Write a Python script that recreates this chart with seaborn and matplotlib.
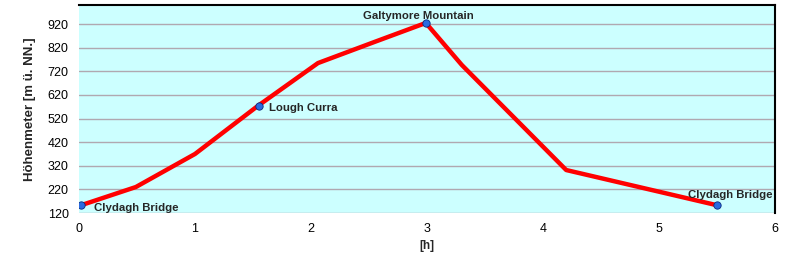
import matplotlib
matplotlib.use("Agg")
import matplotlib.pyplot as plt
import seaborn as sns
import pandas as pd

time_h = [0.0, 0.49, 1.0, 1.54, 2.06, 2.55, 2.99, 3.3, 4.2, 5.49]
elev_m = [150, 230, 370, 573, 755, 845, 925, 747, 302, 154]

wp_time = [0.02, 1.55, 2.99, 5.5]
wp_elev = [152, 575, 925, 156]
wp_names = ["Clydagh Bridge", "Lough Curra", "Galtymore Mountain", "Clydagh Bridge"]

yticks = [120, 220, 320, 420, 520, 620, 720, 820, 920]
xticks = [0, 1, 2, 3, 4, 5, 6]

sns.set_style("white")
plt.rcParams['font.family'] = ['Liberation Sans', 'DejaVu Sans']

fig = plt.figure(figsize=(7.95, 2.65), dpi=100)
ax = fig.add_axes([79/795, 52/265, 696/795, 208/265])
ax.set_facecolor("#CCFFFF")

df = pd.DataFrame({"t": time_h, "e": elev_m})
sns.lineplot(data=df, x="t", y="e", ax=ax, color="#FF0000", linewidth=3.2, zorder=3)
wp = pd.DataFrame({"t": wp_time, "e": wp_elev})
sns.scatterplot(data=wp, x="t", y="e", ax=ax, color="#2A6AE0", edgecolor="#0A2A80",
                s=28, linewidth=0.6, zorder=4)

offsets = [(13, -3, "left"), (10, -2, "left"), (-7, 7, "center"), (13, 10, "center")]
for t, e, name, (dx, dy, ha) in zip(wp_time, wp_elev, wp_names, offsets):
    ax.annotate(name, (t, e), xytext=(dx, dy), textcoords="offset pixels",
                ha=ha, va="center", fontsize=8.2, fontweight="bold", zorder=5)

ax.set_xlim(0, 6)
ax.set_ylim(120, 1001)
ax.set_xticks(xticks)
ax.set_yticks(yticks)
ax.tick_params(axis="both", labelsize=9, colors="#000000", length=4, color="#A0A0A0")
ax.yaxis.grid(True, color="#B0A8B0", linewidth=1)
ax.xaxis.grid(False)
ax.set_axisbelow(True)
for s in ["top", "right"]:
    ax.spines[s].set_color("black")
    ax.spines[s].set_linewidth(1.5)
for s in ["left", "bottom"]:
    ax.spines[s].set_visible(False)
ax.set_xlabel("[h]", fontsize=8.5, fontweight="bold", labelpad=3)
ax.set_ylabel("Höhenmeter [m ü. NN.]", fontsize=9.5, fontweight="bold", labelpad=8)

fig.savefig("out.png", dpi=100)
